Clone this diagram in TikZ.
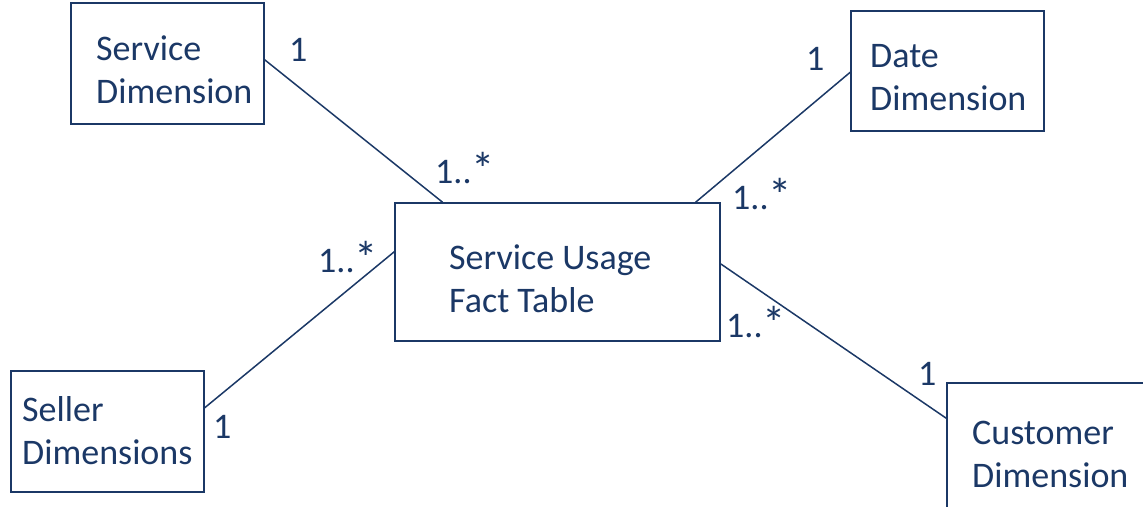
\documentclass[tikz,border=0pt]{standalone}
\usepackage{fontspec}
\usepackage{graphicx}
\setmainfont{Carlito}
\usetikzlibrary{calc}
\definecolor{navy}{HTML}{1B3866}
\tikzset{
  box/.style={draw=navy, line width=1.5pt, rectangle, inner sep=0pt, fill=none},
  boxtext/.style={text=navy, inner sep=0pt, anchor=base west, font=\fontsize{36}{43}\selectfont},
  mult/.style={text=navy, inner sep=0pt, anchor=base west, font=\fontsize{36}{43}\selectfont},
  link/.style={draw=navy, line width=1.5pt},
}
\newcommand{\twolines}[2]{\begin{tabular}[t]{@{}l@{}}#1\\#2\end{tabular}}
\newcommand{\mystar}{\raisebox{-0.06em}{\scalebox{1.3}{*}}}
\begin{document}
\begin{tikzpicture}[x=1pt, y=-1pt]
\useasboundingbox (0,0) rectangle (1143,506);
\clip (0,0) rectangle (1143,506);
\renewcommand{\arraystretch}{1}
% boxes
\node[box, minimum width=193pt, minimum height=121pt] (sd) at (167.5,63.5) {};
\node[box, minimum width=193pt, minimum height=120pt] (dd) at (947.5,71) {};
\node[box, minimum width=325pt, minimum height=138pt] (ft) at (557.5,272) {};
\node[box, minimum width=193pt, minimum height=121pt] (sl) at (107.5,431.5) {};
\node[box, minimum width=220pt, minimum height=140pt] (cd) at (1057,453) {};
% box texts
\node[boxtext] (sdt) at (96,60) {\twolines{Service}{Dimension}};
\node[boxtext] (ddt) at (870,67) {\twolines{Date}{Dimension}};
\node[boxtext] (ftt) at (449,269) {\twolines{Service Usage}{Fact Table}};
\node[boxtext] (slt) at (22,421) {\twolines{Seller}{Dimensions}};
\node[boxtext] (cdt) at (972,444) {\twolines{Customer}{Dimension}};
% connector end points on the borders
\coordinate (sdE) at ($(sd.north east)!0.47!(sd.south east)$);
\coordinate (ftN1) at ($(ft.north west)!0.148!(ft.north east)$);
\coordinate (ddW) at ($(dd.north west)!0.51!(dd.south west)$);
\coordinate (ftN2) at ($(ft.north west)!0.923!(ft.north east)$);
\coordinate (slE) at ($(sl.north east)!0.306!(sl.south east)$);
\coordinate (ftW) at ($(ft.north west)!0.355!(ft.south west)$);
\coordinate (ftE) at ($(ft.north east)!0.442!(ft.south east)$);
\coordinate (cdW) at ($(cd.north west)+(0,36)$);
% connectors
\draw[link] (sdE) -- (ftN1);
\draw[link] (ddW) -- (ftN2);
\draw[link] (slE) -- (ftW);
\draw[link] (ftE) -- (cdW);
% multiplicities
\node[mult] (m1) at (289,61) {1};
\node[mult] (m2) at (435,183) {1..\mystar};
\node[mult] (m3) at (806,70) {1};
\node[mult] (m4) at (732,209) {1..\mystar};
\node[mult] (m5) at (318,272) {1..\mystar};
\node[mult] (m6) at (213,438) {1};
\node[mult] (m7) at (726,337) {1..\mystar};
\node[mult] (m8) at (918,385) {1};
\end{tikzpicture}
\end{document}
